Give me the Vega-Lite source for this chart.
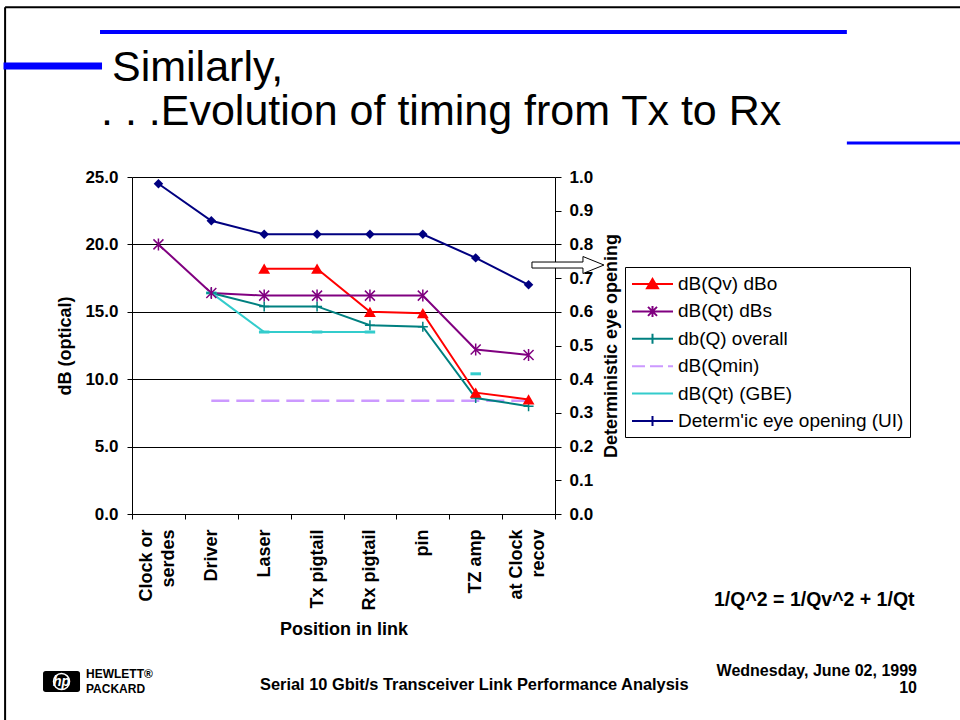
{
  "$schema": "https://vega.github.io/schema/vega-lite/v6.json",
  "width": 423,
  "height": 337,
  "autosize": {"type": "none"},
  "padding": {"left": 132, "top": 177, "right": 405, "bottom": 206},
  "background": "white",
  "config": {
    "font": "Liberation Sans",
    "view": {"stroke": null},
    "axis": {"labelFont": "Liberation Sans", "titleFont": "Liberation Sans", "labelColor": "black", "titleColor": "black", "domainColor": "black", "tickColor": "black", "labelFontWeight": "bold", "titleFontWeight": "bold", "labelFontSize": 17, "titleFontSize": 18, "domainWidth": 1, "tickWidth": 1}
  },
  "datasets": {
    "db": [
      {"position": "Laser", "series": "dB(Qv) dBo", "dB": 18.2},
      {"position": "Tx pigtail", "series": "dB(Qv) dBo", "dB": 18.2},
      {"position": "Rx pigtail", "series": "dB(Qv) dBo", "dB": 15.0},
      {"position": "pin", "series": "dB(Qv) dBo", "dB": 14.9},
      {"position": "TZ amp", "series": "dB(Qv) dBo", "dB": 9.0},
      {"position": "at Clock recov", "series": "dB(Qv) dBo", "dB": 8.5},
      {"position": "Clock or serdes", "series": "dB(Qt) dBs", "dB": 20.0},
      {"position": "Driver", "series": "dB(Qt) dBs", "dB": 16.4},
      {"position": "Laser", "series": "dB(Qt) dBs", "dB": 16.2},
      {"position": "Tx pigtail", "series": "dB(Qt) dBs", "dB": 16.2},
      {"position": "Rx pigtail", "series": "dB(Qt) dBs", "dB": 16.2},
      {"position": "pin", "series": "dB(Qt) dBs", "dB": 16.2},
      {"position": "TZ amp", "series": "dB(Qt) dBs", "dB": 12.2},
      {"position": "at Clock recov", "series": "dB(Qt) dBs", "dB": 11.8},
      {"position": "Driver", "series": "db(Q) overall", "dB": 16.4},
      {"position": "Laser", "series": "db(Q) overall", "dB": 15.4},
      {"position": "Tx pigtail", "series": "db(Q) overall", "dB": 15.4},
      {"position": "Rx pigtail", "series": "db(Q) overall", "dB": 14.0},
      {"position": "pin", "series": "db(Q) overall", "dB": 13.9},
      {"position": "TZ amp", "series": "db(Q) overall", "dB": 8.6},
      {"position": "at Clock recov", "series": "db(Q) overall", "dB": 8.0},
      {"position": "Driver", "series": "dB(Qmin)", "dB": 8.4},
      {"position": "Laser", "series": "dB(Qmin)", "dB": 8.4},
      {"position": "Tx pigtail", "series": "dB(Qmin)", "dB": 8.4},
      {"position": "Rx pigtail", "series": "dB(Qmin)", "dB": 8.4},
      {"position": "pin", "series": "dB(Qmin)", "dB": 8.4},
      {"position": "TZ amp", "series": "dB(Qmin)", "dB": 8.4},
      {"position": "at Clock recov", "series": "dB(Qmin)", "dB": 8.4},
      {"position": "Driver", "series": "dB(Qt) (GBE)", "dB": 16.4},
      {"position": "Laser", "series": "dB(Qt) (GBE)", "dB": 13.5},
      {"position": "Tx pigtail", "series": "dB(Qt) (GBE)", "dB": 13.5},
      {"position": "Rx pigtail", "series": "dB(Qt) (GBE)", "dB": 13.5},
      {"position": "pin", "series": "dB(Qt) (GBE)", "dB": null},
      {"position": "TZ amp", "series": "dB(Qt) (GBE)", "dB": 10.4}
    ],
    "eye": [
      {"position": "Clock or serdes", "series": "Determ'ic eye opening (UI)", "ui": 0.98},
      {"position": "Driver", "series": "Determ'ic eye opening (UI)", "ui": 0.87},
      {"position": "Laser", "series": "Determ'ic eye opening (UI)", "ui": 0.83},
      {"position": "Tx pigtail", "series": "Determ'ic eye opening (UI)", "ui": 0.83},
      {"position": "Rx pigtail", "series": "Determ'ic eye opening (UI)", "ui": 0.83},
      {"position": "pin", "series": "Determ'ic eye opening (UI)", "ui": 0.83},
      {"position": "TZ amp", "series": "Determ'ic eye opening (UI)", "ui": 0.76},
      {"position": "at Clock recov", "series": "Determ'ic eye opening (UI)", "ui": 0.68}
    ]
  },
  "layer": [
    {
      "encoding": {
        "x": {
          "field": "position", "type": "nominal",
          "scale": {"domain": ["Clock or serdes", "Driver", "Laser", "Tx pigtail", "Rx pigtail", "pin", "TZ amp", "at Clock recov"], "paddingInner": 0, "paddingOuter": 0},
          "axis": {"orient": "bottom", "title": "Position in link", "labelAngle": -90, "labelFontSize": 18, "ticks": false, "tickSize": 0, "domain": true, "labelPadding": 15, "labelLineHeight": 22, "labelOverlap": false, "titlePadding": 10,
            "labelExpr": "datum.label == 'Clock or serdes' ? ['Clock or', 'serdes'] : datum.label == 'at Clock recov' ? ['at Clock', 'recov'] : datum.label",
            "labelOffset": {"condition": {"test": "datum.value == 'Clock or serdes' || datum.value == 'at Clock recov'", "value": -12}, "value": 0}}
        }
      },
      "layer": [
        {
          "data": {"name": "db"},
          "encoding": {
            "y": {"field": "dB", "type": "quantitative", "scale": {"domain": [0, 25], "nice": false, "zero": false},
              "axis": {"orient": "left", "values": [0, 5, 10, 15, 20, 25], "format": ".1f", "title": "dB (optical)", "grid": true, "gridColor": "black", "gridWidth": 1, "gridOpacity": 1, "tickSize": 5, "labelPadding": 9, "titlePadding": 10}}
          },
          "layer": [
            {
              "transform": [{"filter": "datum.series == 'dB(Qmin)'"}],
              "mark": {"type": "line", "strokeDash": [18, 7], "strokeWidth": 2.5},
              "encoding": {"color": {"field": "series", "type": "nominal", "scale": {"domain": ["dB(Qv) dBo", "dB(Qt) dBs", "db(Q) overall", "dB(Qmin)", "dB(Qt) (GBE)", "Determ'ic eye opening (UI)"], "range": ["#FF0000", "#800080", "#008080", "#CC99FF", "#33CCCC", "#000080"]},
                "legend": {"title": null, "orient": "none", "legendX": 493, "legendY": 90, "strokeColor": "black", "fillColor": "white", "padding": 6, "cornerRadius": 0, "labelFontSize": 19, "labelFont": "Liberation Sans", "labelColor": "black", "labelLimit": 400, "symbolSize": 400, "rowPadding": 6.4, "labelOffset": 25, "symbolStrokeWidth": 2,
                  "encode": {"symbols": {"update": {"shape": {"signal": "['M-1,0L3.1,0M0.5,0.42L1.05,-0.5L1.6,0.42Z', 'M-1,0L3.1,0M0.6,-0.45L1.5,0.45M0.6,0.45L1.5,-0.45M1.05,-0.55L1.05,0.55', 'M-1,0L3.1,0M1.05,-0.5L1.05,0.5', 'M-1,0L0.3,0M0.8,0L2.1,0M2.6,0L3.1,0', 'M-1,0L3.1,0', 'M-1,0L3.1,0M1.05,-0.5L1.05,0.5'][datum.index]"}, "fill": {"scale": "color", "field": "value"}, "stroke": {"scale": "color", "field": "value"}, "strokeDash": {"value": []}, "strokeWidth": {"value": 2}, "size": {"value": 400}, "opacity": {"value": 1}}}}}}}
            },
            {
              "transform": [{"filter": "datum.series != 'dB(Qmin)'"}],
              "mark": {"type": "line", "strokeWidth": 2, "invalid": "break-paths-show-domains"},
              "encoding": {"color": {"field": "series", "type": "nominal", "scale": {"domain": ["dB(Qv) dBo", "dB(Qt) dBs", "db(Q) overall", "dB(Qmin)", "dB(Qt) (GBE)", "Determ'ic eye opening (UI)"], "range": ["#FF0000", "#800080", "#008080", "#CC99FF", "#33CCCC", "#000080"]}}}
            },
            {
              "transform": [{"filter": "datum.series == 'dB(Qt) (GBE)' && datum.dB != null"}],
              "mark": {"type": "point", "shape": "M-1,0L1,0", "filled": false, "color": "#33CCCC", "size": 110, "strokeWidth": 3, "opacity": 1}
            },
            {
              "transform": [{"filter": "datum.series == 'db(Q) overall'"}],
              "mark": {"type": "point", "shape": "M-1,0L1,0M0,-1L0,1", "filled": false, "color": "#008080", "size": 100, "strokeWidth": 1.5, "opacity": 1}
            },
            {
              "transform": [{"filter": "datum.series == 'dB(Qt) dBs'"}],
              "mark": {"type": "point", "shape": "M-1,-1L1,1M-1,1L1,-1M0,-1.2L0,1.2", "filled": false, "color": "#800080", "size": 100, "strokeWidth": 1.5, "opacity": 1}
            },
            {
              "transform": [{"filter": "datum.series == 'dB(Qv) dBo'"}],
              "mark": {"type": "point", "shape": "triangle-up", "filled": true, "color": "#FF0000", "size": 140, "opacity": 1}
            }
          ]
        },
        {
          "data": {"name": "eye"},
          "encoding": {
            "y": {"field": "ui", "type": "quantitative", "scale": {"domain": [0, 1], "nice": false, "zero": false},
              "axis": {"orient": "right", "values": [0, 0.1, 0.2, 0.3, 0.4, 0.5, 0.6, 0.7, 0.8, 0.9, 1.0], "format": ".1f", "title": "Deterministic eye opening", "grid": false, "tickSize": 6, "labelPadding": 8, "titleAngle": 270, "titlePadding": 28}}
          },
          "layer": [
            {
              "mark": {"type": "line", "strokeWidth": 2},
              "encoding": {"color": {"field": "series", "type": "nominal", "scale": {"domain": ["dB(Qv) dBo", "dB(Qt) dBs", "db(Q) overall", "dB(Qmin)", "dB(Qt) (GBE)", "Determ'ic eye opening (UI)"], "range": ["#FF0000", "#800080", "#008080", "#CC99FF", "#33CCCC", "#000080"]}}}
            },
            {
              "mark": {"type": "point", "shape": "diamond", "filled": true, "color": "#000080", "size": 90, "opacity": 1}
            }
          ]
        }
      ],
      "resolve": {"scale": {"y": "independent"}}
    },
    {
      "data": {"values": [{}]},
      "layer": [
        {"mark": {"type": "rule", "color": "black", "strokeWidth": 2},
         "encoding": {"x": {"datum": -2.4, "type": "quantitative", "scale": {"domain": [0, 8], "nice": false, "zero": false}, "axis": {"orient": "bottom", "values": [0, 1, 2, 3, 4, 5, 6, 7, 8], "labels": false, "domain": false, "grid": false, "ticks": true, "tickSize": 5, "title": null}}, "x2": {"datum": 16}, "y": {"datum": 37.6, "type": "quantitative", "scale": {"domain": [0, 25], "nice": false, "zero": false}, "axis": null}}},
        {"mark": {"type": "rule", "color": "black", "strokeWidth": 2},
         "encoding": {"x": {"datum": -2.4, "type": "quantitative", "scale": {"domain": [0, 8], "nice": false, "zero": false}, "axis": {"orient": "bottom", "values": [0, 1, 2, 3, 4, 5, 6, 7, 8], "labels": false, "domain": false, "grid": false, "ticks": true, "tickSize": 5, "title": null}}, "y": {"datum": 37.6, "type": "quantitative", "scale": {"domain": [0, 25], "nice": false, "zero": false}, "axis": null}, "y2": {"datum": -16}}},
        {"mark": {"type": "rule", "color": "#0000FF", "strokeWidth": 4},
         "encoding": {"x": {"datum": -0.605, "type": "quantitative", "scale": {"domain": [0, 8], "nice": false, "zero": false}, "axis": {"orient": "bottom", "values": [0, 1, 2, 3, 4, 5, 6, 7, 8], "labels": false, "domain": false, "grid": false, "ticks": true, "tickSize": 5, "title": null}}, "x2": {"datum": 13.52}, "y": {"datum": 35.76, "type": "quantitative", "scale": {"domain": [0, 25], "nice": false, "zero": false}, "axis": null}}},
        {"mark": {"type": "rule", "color": "#0000FF", "strokeWidth": 7},
         "encoding": {"x": {"datum": -2.43, "type": "quantitative", "scale": {"domain": [0, 8], "nice": false, "zero": false}, "axis": {"orient": "bottom", "values": [0, 1, 2, 3, 4, 5, 6, 7, 8], "labels": false, "domain": false, "grid": false, "ticks": true, "tickSize": 5, "title": null}}, "x2": {"datum": -0.567}, "y": {"datum": 33.23, "type": "quantitative", "scale": {"domain": [0, 25], "nice": false, "zero": false}, "axis": null}}},
        {"mark": {"type": "rule", "color": "#0000FF", "strokeWidth": 3},
         "encoding": {"x": {"datum": 13.52, "type": "quantitative", "scale": {"domain": [0, 8], "nice": false, "zero": false}, "axis": {"orient": "bottom", "values": [0, 1, 2, 3, 4, 5, 6, 7, 8], "labels": false, "domain": false, "grid": false, "ticks": true, "tickSize": 5, "title": null}}, "x2": {"datum": 16}, "y": {"datum": 27.52, "type": "quantitative", "scale": {"domain": [0, 25], "nice": false, "zero": false}, "axis": null}}},
        {"mark": {"type": "point", "shape": "M0.085,-0.075L1.36,-0.075L1.36,-0.2125L1.885,0L1.36,0.2125L1.36,0.075L0.085,0.075Z", "filled": true, "color": "white", "stroke": "black", "strokeWidth": 1, "size": 6400, "opacity": 1},
         "encoding": {"x": {"datum": 7.5, "type": "quantitative", "scale": {"domain": [0, 8], "nice": false, "zero": false}, "axis": {"orient": "bottom", "values": [0, 1, 2, 3, 4, 5, 6, 7, 8], "labels": false, "domain": false, "grid": false, "ticks": true, "tickSize": 5, "title": null}}, "y": {"datum": 18.47, "type": "quantitative", "scale": {"domain": [0, 25], "nice": false, "zero": false}, "axis": null}}},
        {"mark": {"type": "text", "text": "Similarly,", "align": "left", "baseline": "alphabetic", "fontSize": 43, "fontWeight": "normal", "color": "black"},
         "encoding": {"x": {"datum": -0.378, "type": "quantitative", "scale": {"domain": [0, 8], "nice": false, "zero": false}, "axis": {"orient": "bottom", "values": [0, 1, 2, 3, 4, 5, 6, 7, 8], "labels": false, "domain": false, "grid": false, "ticks": true, "tickSize": 5, "title": null}}, "y": {"datum": 32.12, "type": "quantitative", "scale": {"domain": [0, 25], "nice": false, "zero": false}, "axis": null}}},
        {"mark": {"type": "text", "text": ". . .Evolution of timing from Tx to Rx", "align": "left", "baseline": "alphabetic", "fontSize": 43, "fontWeight": "normal", "color": "black"},
         "encoding": {"x": {"datum": -0.586, "type": "quantitative", "scale": {"domain": [0, 8], "nice": false, "zero": false}, "axis": {"orient": "bottom", "values": [0, 1, 2, 3, 4, 5, 6, 7, 8], "labels": false, "domain": false, "grid": false, "ticks": true, "tickSize": 5, "title": null}}, "y": {"datum": 28.86, "type": "quantitative", "scale": {"domain": [0, 25], "nice": false, "zero": false}, "axis": null}}},
        {"mark": {"type": "text", "text": "1/Q^2 = 1/Qv^2 + 1/Qt", "align": "left", "baseline": "alphabetic", "fontSize": 19.5, "fontWeight": "bold", "color": "black"},
         "encoding": {"x": {"datum": 11.007, "type": "quantitative", "scale": {"domain": [0, 8], "nice": false, "zero": false}, "axis": {"orient": "bottom", "values": [0, 1, 2, 3, 4, 5, 6, 7, 8], "labels": false, "domain": false, "grid": false, "ticks": true, "tickSize": 5, "title": null}}, "y": {"datum": -6.825, "type": "quantitative", "scale": {"domain": [0, 25], "nice": false, "zero": false}, "axis": null}}},
        {"mark": {"type": "text", "text": "Wednesday, June 02, 1999", "align": "right", "baseline": "alphabetic", "fontSize": 16, "fontWeight": "bold", "color": "black"},
         "encoding": {"x": {"datum": 14.846, "type": "quantitative", "scale": {"domain": [0, 8], "nice": false, "zero": false}, "axis": {"orient": "bottom", "values": [0, 1, 2, 3, 4, 5, 6, 7, 8], "labels": false, "domain": false, "grid": false, "ticks": true, "tickSize": 5, "title": null}}, "y": {"datum": -12.018, "type": "quantitative", "scale": {"domain": [0, 25], "nice": false, "zero": false}, "axis": null}}},
        {"mark": {"type": "text", "text": "10", "align": "right", "baseline": "alphabetic", "fontSize": 16, "fontWeight": "bold", "color": "black"},
         "encoding": {"x": {"datum": 14.846, "type": "quantitative", "scale": {"domain": [0, 8], "nice": false, "zero": false}, "axis": {"orient": "bottom", "values": [0, 1, 2, 3, 4, 5, 6, 7, 8], "labels": false, "domain": false, "grid": false, "ticks": true, "tickSize": 5, "title": null}}, "y": {"datum": -13.279, "type": "quantitative", "scale": {"domain": [0, 25], "nice": false, "zero": false}, "axis": null}}},
        {"mark": {"type": "text", "text": "Serial 10 Gbit/s Transceiver Link Performance Analysis", "align": "left", "baseline": "alphabetic", "fontSize": 16.4, "fontWeight": "bold", "color": "black"},
         "encoding": {"x": {"datum": 2.421, "type": "quantitative", "scale": {"domain": [0, 8], "nice": false, "zero": false}, "axis": {"orient": "bottom", "values": [0, 1, 2, 3, 4, 5, 6, 7, 8], "labels": false, "domain": false, "grid": false, "ticks": true, "tickSize": 5, "title": null}}, "y": {"datum": -13.056, "type": "quantitative", "scale": {"domain": [0, 25], "nice": false, "zero": false}, "axis": null}}},
        {"mark": {"type": "point", "shape": "M-0.85,-0.57L0.85,-0.57Q1,-0.57 1,-0.42L1,0.42Q1,0.57 0.85,0.57L-0.85,0.57Q-1,0.57 -1,0.42L-1,-0.42Q-1,-0.57 -0.85,-0.57Z", "filled": true, "color": "black", "size": 1369, "opacity": 1},
         "encoding": {"x": {"datum": -1.333, "type": "quantitative", "scale": {"domain": [0, 8], "nice": false, "zero": false}, "axis": {"orient": "bottom", "values": [0, 1, 2, 3, 4, 5, 6, 7, 8], "labels": false, "domain": false, "grid": false, "ticks": true, "tickSize": 5, "title": null}}, "y": {"datum": -12.426, "type": "quantitative", "scale": {"domain": [0, 25], "nice": false, "zero": false}, "axis": null}}},
        {"mark": {"type": "point", "shape": "circle", "filled": false, "color": "white", "strokeWidth": 1.5, "size": 256, "opacity": 1},
         "encoding": {"x": {"datum": -1.333, "type": "quantitative", "scale": {"domain": [0, 8], "nice": false, "zero": false}, "axis": {"orient": "bottom", "values": [0, 1, 2, 3, 4, 5, 6, 7, 8], "labels": false, "domain": false, "grid": false, "ticks": true, "tickSize": 5, "title": null}}, "y": {"datum": -12.426, "type": "quantitative", "scale": {"domain": [0, 25], "nice": false, "zero": false}, "axis": null}}},
        {"mark": {"type": "text", "text": "hp", "align": "center", "baseline": "middle", "fontSize": 14, "fontWeight": "bold", "fontStyle": "italic", "color": "white"},
         "encoding": {"x": {"datum": -1.333, "type": "quantitative", "scale": {"domain": [0, 8], "nice": false, "zero": false}, "axis": {"orient": "bottom", "values": [0, 1, 2, 3, 4, 5, 6, 7, 8], "labels": false, "domain": false, "grid": false, "ticks": true, "tickSize": 5, "title": null}}, "y": {"datum": -12.426, "type": "quantitative", "scale": {"domain": [0, 25], "nice": false, "zero": false}, "axis": null}}},
        {"mark": {"type": "text", "text": "HEWLETT®", "align": "left", "baseline": "alphabetic", "fontSize": 12, "fontWeight": "bold", "color": "black"},
         "encoding": {"x": {"datum": -0.87, "type": "quantitative", "scale": {"domain": [0, 8], "nice": false, "zero": false}, "axis": {"orient": "bottom", "values": [0, 1, 2, 3, 4, 5, 6, 7, 8], "labels": false, "domain": false, "grid": false, "ticks": true, "tickSize": 5, "title": null}}, "y": {"datum": -12.2, "type": "quantitative", "scale": {"domain": [0, 25], "nice": false, "zero": false}, "axis": null}}},
        {"mark": {"type": "text", "text": "PACKARD", "align": "left", "baseline": "alphabetic", "fontSize": 12, "fontWeight": "bold", "color": "black"},
         "encoding": {"x": {"datum": -0.87, "type": "quantitative", "scale": {"domain": [0, 8], "nice": false, "zero": false}, "axis": {"orient": "bottom", "values": [0, 1, 2, 3, 4, 5, 6, 7, 8], "labels": false, "domain": false, "grid": false, "ticks": true, "tickSize": 5, "title": null}}, "y": {"datum": -13.3, "type": "quantitative", "scale": {"domain": [0, 25], "nice": false, "zero": false}, "axis": null}}}
      ]
    }
  ],
  "resolve": {"scale": {"x": "independent", "y": "independent"}}
}
